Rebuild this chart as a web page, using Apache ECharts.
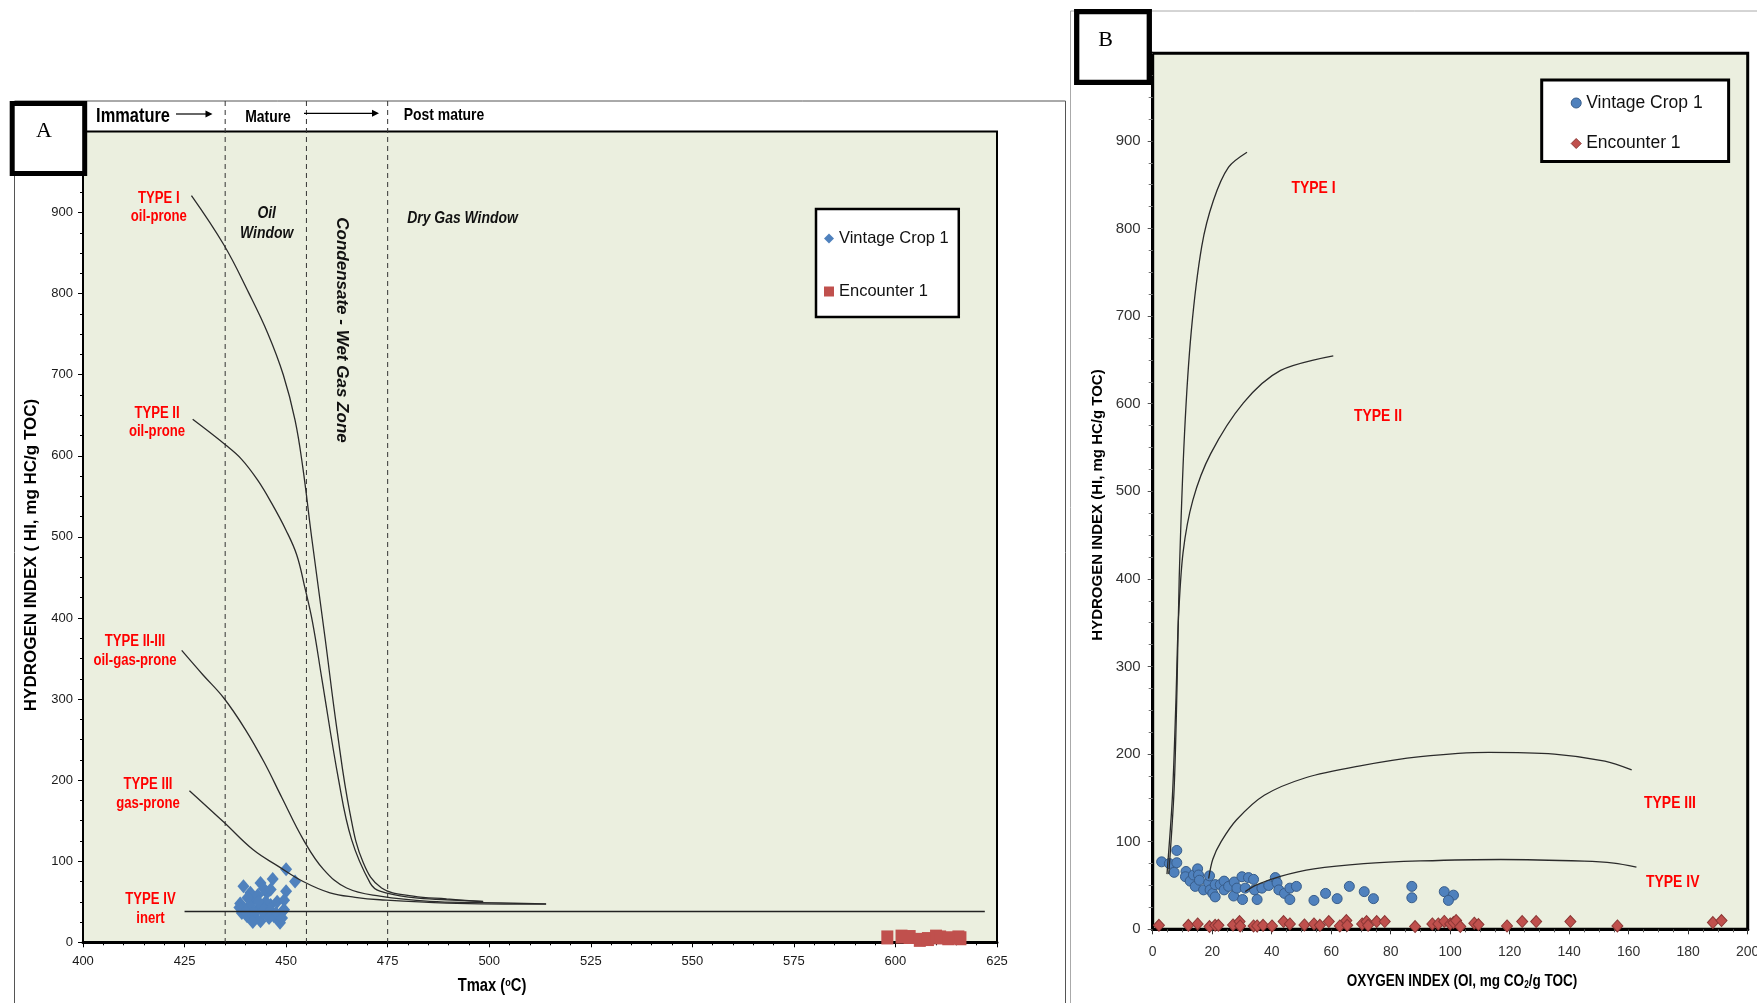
<!DOCTYPE html>
<html>
<head>
<meta charset="utf-8">
<script src="https://cdn.jsdelivr.net/npm/echarts@6/dist/echarts.min.js"></script>
<style>
html, body { margin: 0; padding: 0; background: #fff; }
#main { width: 1757px; height: 1003px; }
</style>
</head>
<body>
<div id="main"></div>
<script>
// ---------- panel A : HI vs Tmax ----------
var tmaxRange = [400, 625];
var hiRange = [0, 1000];
var windowBounds = [435, 455, 475];   // oil window / condensate / dry gas limits (Tmax)

var vintageTmaxHi = [
  [450, 90], [452.2, 75], [446.7, 78], [450, 63], [448.5, 24], [449.5, 40],
  [439.5, 69], [438.7, 48], [439.1, 36], [440.4, 32], [443.7, 26], [442, 53],
  [443.7, 73], [445.3, 61], [446.2, 46], [447, 32], [447.8, 50], [449.1, 38],
  [449.5, 52], [442.9, 40], [444.5, 36], [441.2, 61], [444.5, 66], [446.2, 65],
  [441, 45], [442.5, 30], [445, 50], [443, 58], [440.5, 55], [446, 40],
  [448, 28], [444, 44], [442, 36], [447.5, 36], [438.5, 43], [440, 38],
  [445.8, 30], [443.2, 50], [441.8, 25], [449, 30]
];
var encounterTmaxHi = [
  [598, 6], [601.5, 7], [603.5, 6.5], [606, 3], [608, 4], [610, 7],
  [611, 6], [613, 5], [615.5, 6], [616, 5]
];

var typeI_A = [
  [426.7, 921], [434.7, 860], [440.8, 801], [445.5, 751], [449.3, 700],
  [452.2, 644], [454.1, 586], [456.3, 499], [459.6, 375], [462.5, 263],
  [465.7, 160], [469.0, 98], [473.5, 67], [481.3, 57], [489.5, 53.5], [498.5, 50]
];
var typeII_A = [
  [427, 645], [435.2, 613], [439, 596], [443, 570], [446.5, 541], [450, 508],
  [452.6, 478], [454.5, 440], [456.5, 395], [458.8, 325], [462.9, 201], [466.1, 127],
  [470.7, 73], [473.1, 63], [481.3, 55], [489.5, 52.5], [498.5, 50.4]
];
var typeIIIII_A = [
  [424.3, 360], [429.5, 330], [434.7, 301], [439.9, 263], [444.6, 222], [449, 178],
  [454.2, 127], [459.2, 90], [464.9, 67], [473.1, 57], [485.4, 50.5], [497.7, 49],
  [514, 47.5]
];
var typeIII_A = [
  [426.2, 187], [434.7, 148], [441.9, 114], [448, 94], [454.2, 75], [460.8, 61],
  [467, 55.5], [473.1, 52.5], [489.5, 48.4], [514, 47]
];
var typeIV_A = [[425, 38], [622, 38]];

// ---------- panel B : HI vs OI ----------
var oiRange = [0, 200];

var vintageOiHi = [
  [3.0, 77], [5.6, 75], [8.1, 90], [8.1, 76], [7.2, 65], [11.2, 66], [11.0, 60],
  [12.6, 55], [13.7, 62], [14.3, 49], [15.1, 69], [15.4, 62], [15.7, 56], [17.1, 45],
  [18.8, 53], [19.1, 61], [19.3, 45], [20.2, 41], [21.0, 37], [21.0, 51], [22.7, 51],
  [24.0, 55], [24.0, 45], [25.5, 49], [27.2, 38], [27.4, 54], [28.3, 47], [30.0, 60],
  [30.2, 34], [31.1, 47], [32.2, 59], [33.9, 57], [34.2, 45], [35.1, 34], [36.7, 47],
  [39.0, 50], [41.2, 59], [41.8, 53], [42.4, 45], [44.3, 41], [46.1, 47], [46.1, 34],
  [48.3, 49], [54.2, 33], [58.1, 41], [62.0, 35], [66.1, 49], [71.1, 43], [74.2, 35],
  [87.1, 49], [87.1, 36], [98.0, 43], [101.1, 39], [99.4, 33]
];
var encounterOiHi = [
  [2.1, 4.6], [12.0, 4.6], [15.1, 6.1], [19.1, 3.1], [21.0, 4.6], [22.1, 4.6],
  [27.0, 5.0], [29.2, 8.8], [29.4, 3.8], [33.9, 3.8], [35.1, 3.8], [37.1, 4.6],
  [40.1, 3.8], [44.0, 8.8], [46.1, 6.1], [51.0, 5.0], [54.2, 6.1], [56.2, 4.6],
  [59.2, 8.8], [62.9, 3.8], [65.1, 10.0], [65.4, 4.6], [70.4, 6.1], [71.9, 8.8],
  [72.4, 4.6], [75.3, 8.8], [78.0, 8.8], [88.2, 3.1], [94.0, 6.1], [96.0, 6.1],
  [98.0, 9.0], [100.0, 6.1], [101.1, 7.7], [102.0, 10.0], [103.4, 3.1], [108.1, 7.0],
  [109.5, 5.4], [119.1, 3.8], [124.2, 8.8], [128.9, 8.8], [140.4, 8.8], [156.2, 3.8],
  [188.3, 7.7], [191.2, 10.0]
];

var typeI_B = [
  [5.4, 63], [7.2, 160], [8.2, 280], [8.9, 400], [10.7, 566], [13, 684],
  [16.5, 780], [20.4, 832], [25.5, 870], [31.7, 887]
];
var typeII_B = [
  [4.8, 63], [6.6, 150], [7.8, 260], [8.6, 350], [10.2, 430], [13.5, 490],
  [19.5, 543], [30.5, 601], [43, 638], [60.7, 654.6]
];
var typeIII_B = [
  [18.8, 58], [20.2, 80], [23, 100], [28.2, 125], [37.5, 153], [51.4, 173],
  [68.8, 186], [90, 197], [113, 202], [135, 200], [152, 192], [161, 182]
];
var typeIV_B = [
  [31.1, 43], [35.1, 51], [42.9, 60.5], [54.2, 69], [71, 75], [90, 78],
  [117, 79.7], [145, 77.8], [155, 75.5], [162.6, 71]
];

var BLUE = '#4F81BD';
var RED = '#C0504D';
var CURVE = '#2b2b2b';
var PLOT_BG = '#EBEFDF';
var SANS = '"Liberation Sans", Arial, sans-serif';
var SQUEEZE = 0.82;   // the source figure is horizontally compressed

function curve(name, data, xi, smooth) {
  return {
    name: name, type: 'line', data: data, xAxisIndex: xi, yAxisIndex: xi,
    smooth: smooth, showSymbol: false, symbol: 'none',
    lineStyle: { color: CURVE, width: 1.3 }, z: 3, silent: true
  };
}

function hideTop(v) { return v >= 1000 ? '' : v; }

var chart = echarts.init(document.getElementById('main'));

var option = {
  animation: false,
  backgroundColor: '#fff',
  grid: [
    { left: 83, right: 760, top: 131.5, bottom: 60.7, show: true, backgroundColor: PLOT_BG,
      borderColor: '#000', borderWidth: 2, outerBoundsMode: 'none' },
    { left: 1152.7, right: 9.3, top: 53.3, bottom: 73.7, show: true, backgroundColor: PLOT_BG,
      borderColor: '#000', borderWidth: 3, outerBoundsMode: 'none' }
  ],
  xAxis: [
    { gridIndex: 0, type: 'value', min: tmaxRange[0], max: tmaxRange[1], interval: 25,
      axisLine: { show: true, onZero: false, lineStyle: { color: '#000', width: 3 } },
      axisTick: { show: true, length: 5, lineStyle: { color: '#000' } },
      minorTick: { show: true, splitNumber: 5, length: 3, lineStyle: { color: '#000' } },
      splitLine: { show: false },
      axisLabel: { margin: 13, fontFamily: SANS, fontSize: 13, color: '#1a1a1a' } },
    { gridIndex: 1, type: 'value', min: oiRange[0], max: oiRange[1], interval: 20,
      axisLine: { show: true, onZero: false, lineStyle: { color: '#000', width: 3 } },
      axisTick: { show: true, length: 5, lineStyle: { color: '#333' } },
      minorTick: { show: true, splitNumber: 4, length: 3, lineStyle: { color: '#555' } },
      splitLine: { show: false },
      axisLabel: { margin: 16, fontFamily: SANS, fontSize: 14, color: '#333' } }
  ],
  yAxis: [
    { gridIndex: 0, type: 'value', min: hiRange[0], max: hiRange[1], interval: 100,
      axisLine: { show: true, onZero: false, lineStyle: { color: '#000', width: 2 } },
      axisTick: { show: true, length: 5, lineStyle: { color: '#000' } },
      minorTick: { show: true, splitNumber: 4, length: 3, lineStyle: { color: '#000' } },
      splitLine: { show: false },
      axisLabel: { margin: 10, fontFamily: SANS, fontSize: 13, color: '#1a1a1a', formatter: hideTop } },
    { gridIndex: 1, type: 'value', min: hiRange[0], max: hiRange[1], interval: 100,
      axisLine: { show: true, onZero: false, lineStyle: { color: '#000', width: 3 } },
      axisTick: { show: true, length: 5, lineStyle: { color: '#555' } },
      minorTick: { show: true, splitNumber: 4, length: 4, lineStyle: { color: '#777' } },
      splitLine: { show: false },
      axisLabel: { margin: 12, fontFamily: SANS, fontSize: 15, color: '#333', formatter: hideTop } }
  ],
  legend: [
    { left: 816, top: 209, orient: 'vertical', backgroundColor: '#fff', borderColor: '#000',
      borderWidth: 2.5, borderRadius: 0, padding: [21, 10, 17, 8], itemGap: 36,
      itemWidth: 10, itemHeight: 10, selectedMode: false,
      textStyle: { fontFamily: SANS, fontSize: 16.5, color: '#111' },
      data: [
        { name: 'Vintage Crop 1', icon: 'diamond', itemStyle: { color: BLUE, borderWidth: 0 } },
        { name: 'Encounter 1', icon: 'rect', itemStyle: { color: RED, borderWidth: 0 } }
      ] },
    { left: 1541.7, top: 80, orient: 'vertical', backgroundColor: '#fff', borderColor: '#000',
      borderWidth: 3, borderRadius: 0, padding: [14, 26, 9, 29], itemGap: 22.5,
      itemWidth: 10, itemHeight: 10, selectedMode: false,
      textStyle: { fontFamily: SANS, fontSize: 17.5, color: '#111' },
      data: [
        { name: 'Vintage Crop 1', icon: 'circle', itemStyle: { color: BLUE, borderColor: '#385D8A', borderWidth: 1 } },
        { name: 'Encounter 1', icon: 'diamond', itemStyle: { color: RED, borderColor: '#8C3836', borderWidth: 1 } }
      ] }
  ],
  series: [
    { name: 'Vintage Crop 1', type: 'scatter', xAxisIndex: 0, yAxisIndex: 0, data: vintageTmaxHi,
      symbol: 'diamond', symbolSize: [12, 14], itemStyle: { color: BLUE, opacity: 1 }, z: 2 },
    { name: 'Encounter 1', type: 'scatter', xAxisIndex: 0, yAxisIndex: 0, data: encounterTmaxHi,
      symbol: 'rect', symbolSize: [12, 14], itemStyle: { color: RED, opacity: 1 }, z: 2, clip: false },
    curve('Type I', typeI_A, 0, 0.4),
    curve('Type II', typeII_A, 0, 0.4),
    curve('Type II-III', typeIIIII_A, 0, 0.4),
    curve('Type III', typeIII_A, 0, 0.4),
    { name: 'Type IV', type: 'line', data: typeIV_A, xAxisIndex: 0, yAxisIndex: 0,
      showSymbol: false, symbol: 'none', lineStyle: { color: '#222', width: 1.3 }, z: 3, silent: true },

    { name: 'Vintage Crop 1', type: 'scatter', xAxisIndex: 1, yAxisIndex: 1, data: vintageOiHi,
      symbol: 'circle', symbolSize: 10,
      itemStyle: { color: BLUE, borderColor: '#385D8A', borderWidth: 1, opacity: 1 }, z: 2 },
    { name: 'Encounter 1', type: 'scatter', xAxisIndex: 1, yAxisIndex: 1, data: encounterOiHi,
      symbol: 'diamond', symbolSize: [11, 12],
      itemStyle: { color: RED, borderColor: '#8C3836', borderWidth: 1, opacity: 1 }, z: 2, clip: false },
    curve('Type I', typeI_B, 1, 0.3),
    curve('Type II', typeII_B, 1, 0.3),
    curve('Type III', typeIII_B, 1, 0.3),
    curve('Type IV', typeIV_B, 1, 0.3)
  ]
};

chart.setOption(option);

// ---------- decorations (frames, labels, window boundaries) ----------
function txt(text, x, y, font, color, extra) {
  var el = {
    type: 'text', x: x, y: y, z: 6, scaleX: SQUEEZE,
    style: { text: text, font: font, fill: color || '#000', align: 'center', verticalAlign: 'middle' }
  };
  if (extra) {
    for (var k in extra) {
      if (k === 'style') { for (var s in extra.style) el.style[s] = extra.style[s]; }
      else el[k] = extra[k];
    }
  }
  return el;
}

var g = [];
// panel frames
g.push({ type: 'rect', z: 1, shape: { x: 14.5, y: 101, width: 1051, height: 1000 },
  style: { fill: null, stroke: '#555', lineWidth: 1 } });
g.push({ type: 'rect', z: 1, shape: { x: 1070.5, y: 11, width: 720, height: 1000 },
  style: { fill: null, stroke: '#aaa', lineWidth: 1 } });

// dashed maturity boundaries, running from the header down to the x axis
var headerTop = 101;
windowBounds.forEach(function (t) {
  var p = chart.convertToPixel({ gridIndex: 0 }, [t, 0]);
  g.push({ type: 'line', z: 1, silent: true,
    shape: { x1: p[0], y1: headerTop, x2: p[0], y2: p[1] },
    style: { stroke: '#333', lineWidth: 1, lineDash: [5, 4] } });
});

// A / B boxes
g.push({ type: 'rect', z: 7, shape: { x: 12.2, y: 103.5, width: 72.5, height: 70 },
  style: { fill: '#fff', stroke: '#000', lineWidth: 5 } });
g.push(txt('A', 44, 131, '22px "Liberation Serif", "Times New Roman", serif', '#000', { z: 8, scaleX: 1 }));
g.push({ type: 'rect', z: 7, shape: { x: 1076.7, y: 11.7, width: 72.6, height: 70.6 },
  style: { fill: '#fff', stroke: '#000', lineWidth: 5.3 } });
g.push(txt('B', 1105.7, 40, '22px "Liberation Serif", "Times New Roman", serif', '#000', { z: 8, scaleX: 1 }));

// header: maturity stages
g.push(txt('Immature', 133, 116, 'bold 20px ' + SANS, '#000'));
g.push(txt('Mature', 268, 117, 'bold 17px ' + SANS, '#000'));
g.push(txt('Post mature', 444, 115, 'bold 17px ' + SANS, '#000'));
function arrow(x1, x2, y) {
  g.push({ type: 'line', z: 6, shape: { x1: x1, y1: y, x2: x2 - 5, y2: y }, style: { stroke: '#000', lineWidth: 1.2 } });
  g.push({ type: 'polygon', z: 6, shape: { points: [[x2, y], [x2 - 7, y - 3.5], [x2 - 7, y + 3.5]] }, style: { fill: '#000' } });
}
arrow(176, 212.5, 114);
arrow(304, 379, 113.3);

// zone names
g.push(txt('Oil\nWindow', 266.7, 223, 'italic bold 17px ' + SANS, '#111', { style: { lineHeight: 20 } }));
g.push(txt('Dry Gas Window', 462.5, 218, 'italic bold 17px ' + SANS, '#111'));
g.push(txt('Condensate - Wet Gas Zone', 341.8, 330, 'italic bold 17px ' + SANS, '#111',
  { rotation: -Math.PI / 2, scaleX: 1, scaleY: 1 }));

// kerogen type labels, panel A
var redA = 'bold 16px ' + SANS;
g.push(txt('TYPE I\noil-prone', 158.8, 207.5, redA, '#FF0000', { style: { lineHeight: 18.5 } }));
g.push(txt('TYPE II\noil-prone', 157, 422.5, redA, '#FF0000', { style: { lineHeight: 18.5 } }));
g.push(txt('TYPE II-III\noil-gas-prone', 135, 651.3, redA, '#FF0000', { style: { lineHeight: 19 } }));
g.push(txt('TYPE III\ngas-prone', 148, 794.2, redA, '#FF0000', { style: { lineHeight: 18.5 } }));
g.push(txt('TYPE IV\ninert', 150.5, 908.8, redA, '#FF0000', { style: { lineHeight: 19 } }));

// kerogen type labels, panel B
var redB = 'bold 17px ' + SANS;
g.push(txt('TYPE I', 1313.5, 188, redB, '#FF0000'));
g.push(txt('TYPE II', 1378, 416, redB, '#FF0000'));
g.push(txt('TYPE III', 1670, 803, redB, '#FF0000'));
g.push(txt('TYPE IV', 1672.7, 882.7, redB, '#FF0000'));

// axis titles
g.push(txt('HYDROGEN INDEX ( HI, mg HC/g TOC)', 31.4, 555, 'bold 17px ' + SANS, '#000',
  { rotation: Math.PI / 2, scaleX: 1 }));
g.push({ type: 'text', x: 492, y: 986.5, z: 6, scaleX: SQUEEZE,
  style: { text: '{n|Tmax (}{s|o}{n|C)}', align: 'center', verticalAlign: 'middle',
    rich: { n: { fontFamily: SANS, fontWeight: 'bold', fontSize: 18, fill: '#000' },
            s: { fontFamily: SANS, fontWeight: 'bold', fontSize: 11, fill: '#000', padding: [0, 0, 8, 0] } } } });
g.push(txt('HYDROGEN INDEX (HI, mg HC/g TOC)', 1098, 505, 'bold 15px ' + SANS, '#000',
  { rotation: Math.PI / 2, scaleX: 1 }));
g.push({ type: 'text', x: 1462, y: 981, z: 6, scaleX: SQUEEZE,
  style: { text: '{n|OXYGEN INDEX (OI, mg CO}{s|2}{n|/g TOC)}', align: 'center', verticalAlign: 'middle',
    rich: { n: { fontFamily: SANS, fontWeight: 'bold', fontSize: 16.5, fill: '#000' },
            s: { fontFamily: SANS, fontWeight: 'bold', fontSize: 10, fill: '#000', padding: [8, 0, 0, 0] } } } });

chart.setOption({ graphic: g });
</script>
</body>
</html>
